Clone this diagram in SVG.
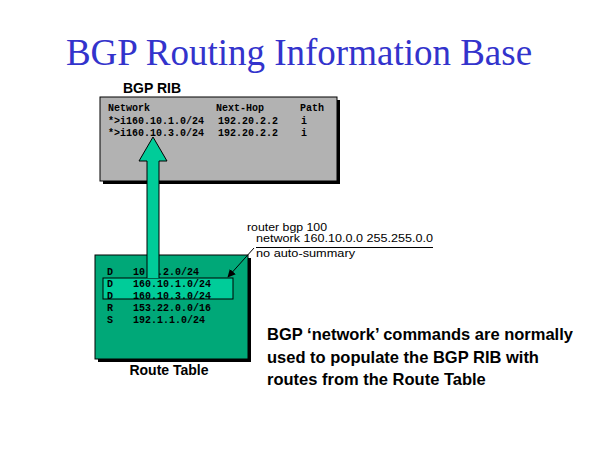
<svg xmlns="http://www.w3.org/2000/svg" width="600" height="450" viewBox="0 0 600 450">
<defs>
<style>
.mono{font-family:"Liberation Mono","Courier New",monospace;font-size:10px;font-weight:bold;fill:#000}
.lbl{font-family:"Liberation Sans",Arial,sans-serif;font-size:14px;font-weight:bold;fill:#000}
.cfg{font-family:"Liberation Sans",Arial,sans-serif;font-size:11px;fill:#000}
.body{font-family:"Liberation Sans",Arial,sans-serif;font-size:16.5px;font-weight:bold;fill:#000}
</style>
<marker id="ah" viewBox="0 0 10 10" refX="9" refY="5" markerWidth="8" markerHeight="8" orient="auto" markerUnits="userSpaceOnUse">
<path d="M0,0 L10,5 L0,10 z" fill="#000"/>
</marker>
</defs>
<rect width="600" height="450" fill="#fff"/>
<text x="299" y="65" text-anchor="middle" font-family="Liberation Serif,'Times New Roman',serif" font-size="37" fill="#3333CC">BGP Routing Information Base</text>

<g id="bgp-rib">
<rect x="103" y="100" width="237" height="84" fill="#000"/>
<rect x="100" y="97" width="237" height="84" fill="#B2B2B2" stroke="#000" stroke-width="1"/>
<text x="123" y="93" class="lbl">BGP RIB</text>
<text x="108" y="111" class="mono">Network</text>
<text x="216" y="111" class="mono">Next-Hop</text>
<text x="300" y="111" class="mono">Path</text>
<text x="108" y="124" class="mono">*&gt;i160.10.1.0/24</text>
<text x="218" y="124" class="mono">192.20.2.2</text>
<text x="301" y="124" class="mono">i</text>
<text x="108" y="136" class="mono">*&gt;i160.10.3.0/24</text>
<text x="218" y="136" class="mono">192.20.2.2</text>
<text x="301" y="136" class="mono">i</text>
</g>

<g id="route-table">
<rect x="98" y="258" width="153" height="104" fill="#000"/>
<rect x="95" y="255" width="153" height="104" fill="#00A878" stroke="#000" stroke-width="1"/>
<rect x="103" y="278" width="130" height="21" fill="#00CC99" stroke="#000" stroke-width="1"/>
<text x="107" y="275" class="mono">D</text><text x="133" y="275" class="mono">10.1.2.0/24</text>
<text x="107" y="287" class="mono">D</text><text x="133" y="287" class="mono">160.10.1.0/24</text>
<text x="107" y="299" class="mono">D</text><text x="133" y="299" class="mono">160.10.3.0/24</text>
<text x="107" y="311" class="mono">R</text><text x="133" y="311" class="mono">153.22.0.0/16</text>
<text x="107" y="323" class="mono">S</text><text x="133" y="323" class="mono">192.1.1.0/24</text>
<text x="169" y="375" text-anchor="middle" class="lbl">Route Table</text>
</g>

<g id="config">
<text x="247" y="231" class="cfg" textLength="80" lengthAdjust="spacingAndGlyphs">router bgp 100</text>
<text x="256" y="242" class="cfg" textLength="177" lengthAdjust="spacingAndGlyphs">network 160.10.0.0 255.255.0.0</text>
<text x="256" y="257" class="cfg" textLength="99" lengthAdjust="spacingAndGlyphs">no auto-summary</text>
<line x1="256" y1="247.5" x2="433" y2="247.5" stroke="#000" stroke-width="1"/>
</g>

<g id="note">
<text x="267" y="340" class="body">BGP ‘network’ commands are normally</text>
<text x="267" y="363" class="body">used to populate the BGP RIB with</text>
<text x="267" y="385" class="body">routes from the Route Table</text>
</g>

<g id="connectors">
<path d="M147,278 L147,161 L139,161 L153,137 L167,161 L159,161 L159,278" fill="#00CC99" stroke="#000" stroke-width="1"/>
<line x1="254" y1="248" x2="228" y2="277" stroke="#000" stroke-width="1" marker-end="url(#ah)"/>
</g>
</svg>
